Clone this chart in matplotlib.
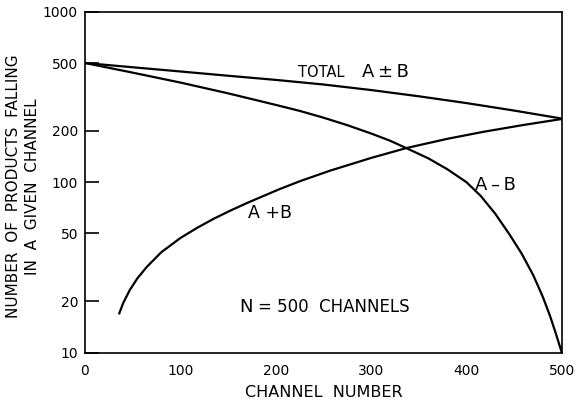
import matplotlib as mpl
mpl.use('Agg')
import matplotlib.pyplot as plt
from matplotlib.ticker import FixedLocator, FixedFormatter, NullLocator

# channel number vs. number of products
x_total = [0, 50, 100, 150, 200, 250, 300, 350, 400, 450, 500]
y_total = [500, 472, 446, 421, 398, 374, 347, 319, 291, 263, 236]

x_diff = [0, 50, 100, 150, 200, 225, 250, 275, 300, 320, 340, 360, 380, 400,
          415, 430, 445, 458, 470, 480, 488, 494, 500]
y_diff = [500, 439, 384, 332, 284, 262, 239, 216, 193, 175, 155.5, 138, 119, 100,
          83, 65.5, 49.5, 38, 28.5, 21.3, 16.2, 12.8, 10]

x_sum = [36, 40, 47, 55, 65, 80, 100, 118, 135, 152, 170, 204, 226, 257, 280,
         300, 337, 380, 418, 460, 500]
y_sum = [17, 19.5, 23.3, 27.3, 31.9, 38.8, 47, 54.1, 61, 67.9, 75.5, 91, 101.6,
         116.8, 128, 138.7, 158.5, 179.6, 197.5, 216.6, 234.7]

ytick_vals = [10, 20, 50, 100, 200, 500, 1000]
xtick_vals = [0, 100, 200, 300, 400, 500]

plt.rcParams['font.family'] = 'DejaVu Sans'

fig = plt.figure(figsize=(5.78, 4.03), dpi=100)
ax = fig.add_axes([0.147, 0.125, 0.825, 0.846])

lw = 1.6
ax.plot(x_total, y_total, color='black', lw=lw)
ax.plot(x_diff, y_diff, color='black', lw=lw)
ax.plot(x_sum, y_sum, color='black', lw=lw)

ax.set_yscale('log')
ax.set_xlim(0, 500)
ax.set_ylim(10, 1000)

for s in ax.spines.values():
    s.set_linewidth(1.2)

ax.yaxis.set_major_locator(FixedLocator(ytick_vals))
ax.yaxis.set_major_formatter(FixedFormatter([str(v) for v in ytick_vals]))
ax.yaxis.set_minor_locator(NullLocator())
ax.tick_params(axis='y', direction='in', length=10, width=1.2, pad=5, labelsize=10)

ax.xaxis.set_major_locator(FixedLocator(xtick_vals))
ax.xaxis.set_major_formatter(FixedFormatter([str(v) for v in xtick_vals]))
ax.tick_params(axis='x', direction='in', length=8, width=1.2, pad=8, labelsize=10)

# only the inner ticks get marks; 100 is drawn longer
for t in ax.yaxis.get_major_ticks():
    loc = t.get_loc()
    if loc in (10, 500, 1000):
        t.tick1line.set_visible(False)
    elif loc == 100:
        t.tick1line.set_markersize(13)
for t in ax.xaxis.get_major_ticks():
    if t.get_loc() in (0, 500):
        t.tick1line.set_visible(False)

ax.set_xlabel('CHANNEL  NUMBER', fontsize=11.5, labelpad=5)
ax.set_ylabel('NUMBER  OF  PRODUCTS  FALLING\nIN  A  GIVEN  CHANNEL',
              fontsize=11, linespacing=1.35)
ax.yaxis.set_label_coords(-0.094, 0.487)

# curve labels
ax.text(223, 416, 'TOTAL', fontsize=10.5, va='baseline')
ax.text(291, 416, 'A\u2009\u00b1\u2009B', fontsize=13, va='baseline')
ax.text(409, 90, 'A\u2009\u2013\u2009B', fontsize=13, va='baseline')
ax.text(171, 61.6, 'A +B', fontsize=12.5, va='baseline')
ax.text(162, 17.2, 'N', fontsize=13, va='baseline')
ax.text(181, 17.2, '= 500  CHANNELS', fontsize=12, va='baseline')

fig.savefig('out.png', dpi=100)
